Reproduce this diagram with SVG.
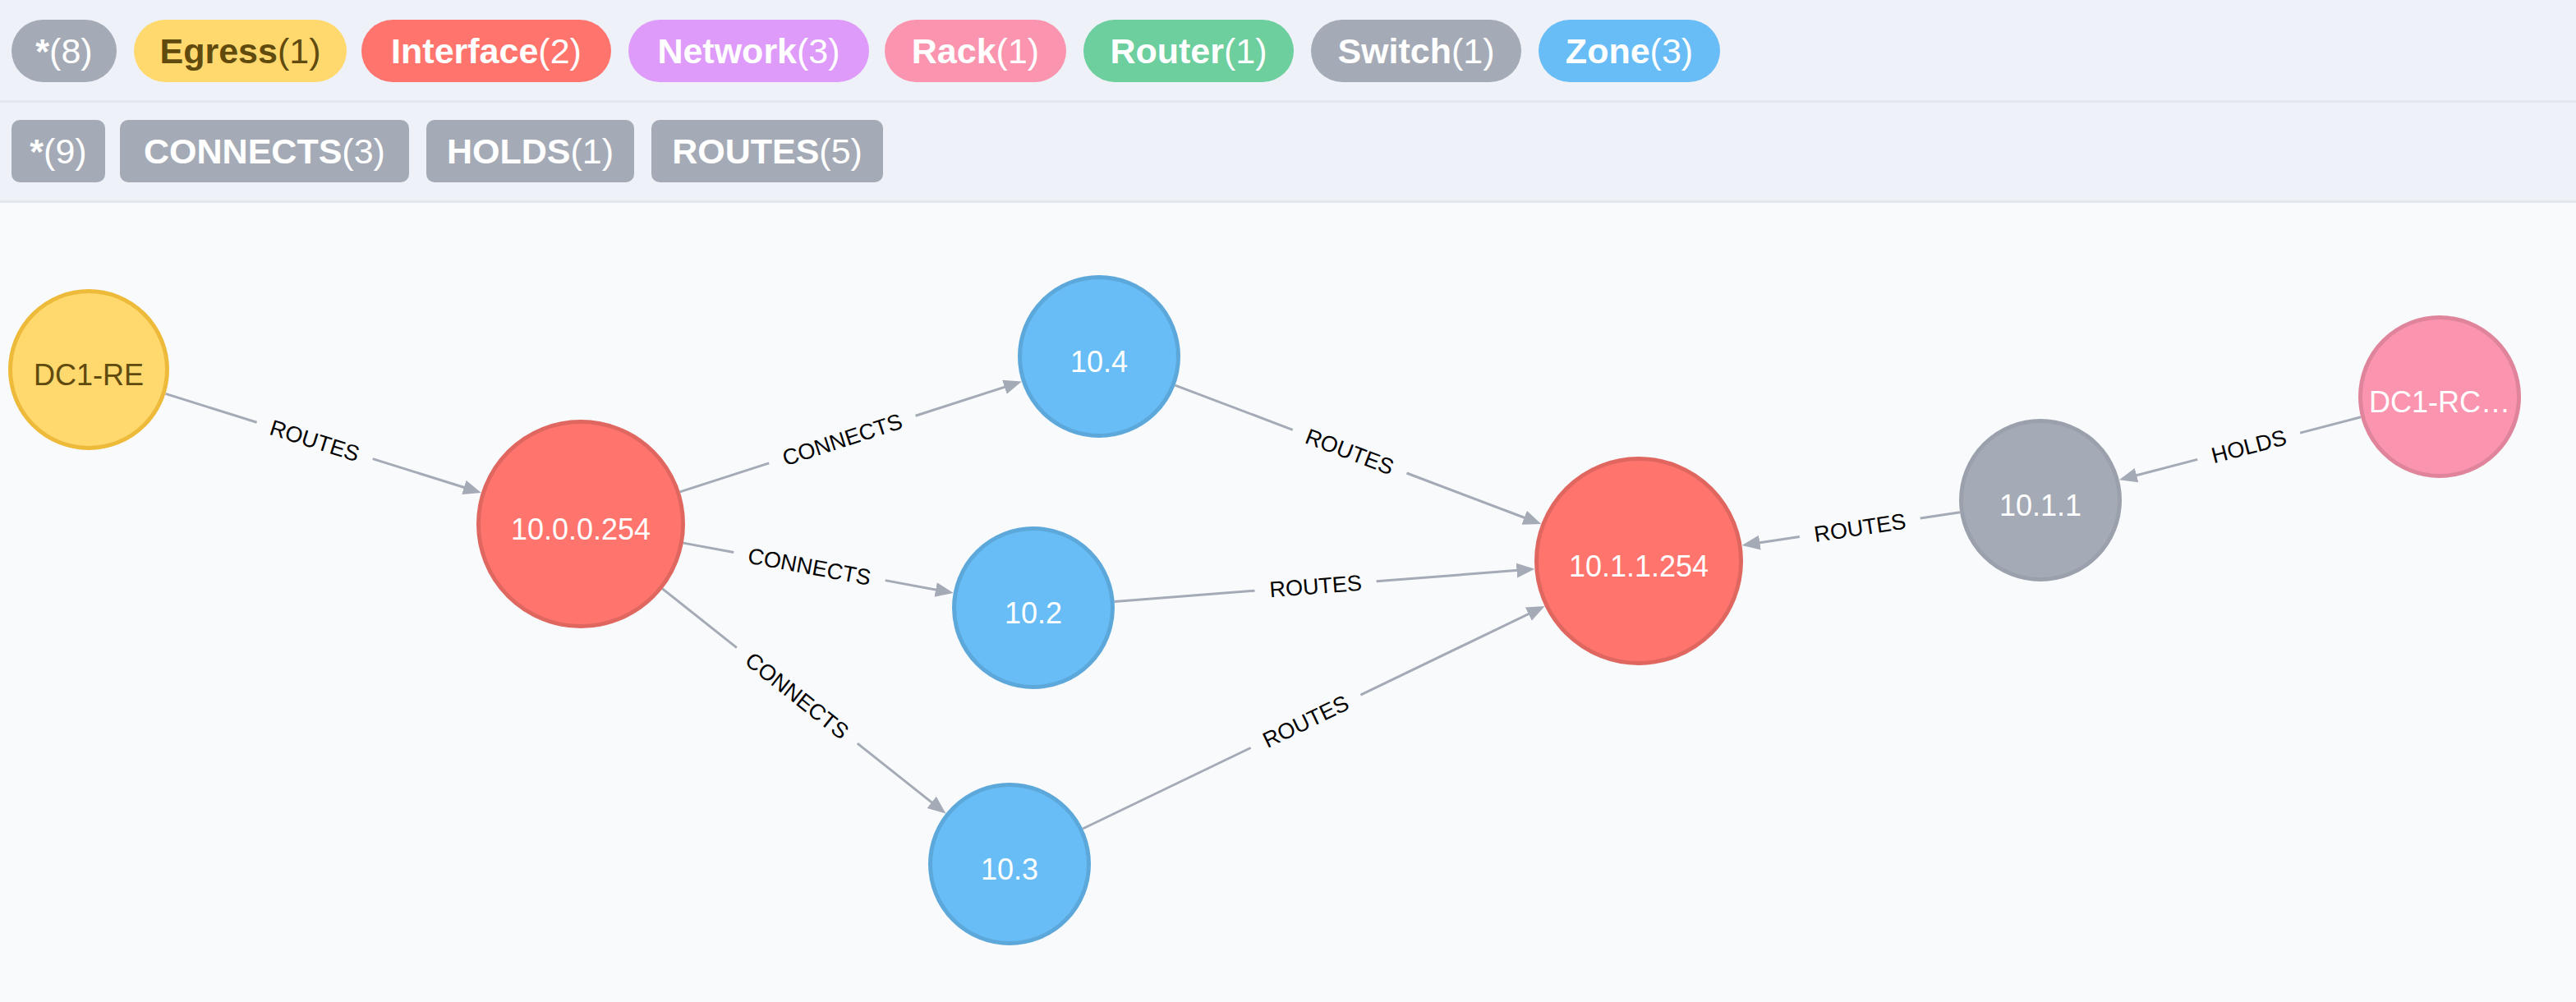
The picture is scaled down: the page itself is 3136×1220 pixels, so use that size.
<svg xmlns="http://www.w3.org/2000/svg" width="3136" height="1220" viewBox="0 0 3136 1220">
<defs>
<style>
.pill{font-family:"Liberation Sans",Arial,sans-serif;font-size:43px;fill:#fff;text-anchor:middle}
.pill .b{font-weight:bold}
.node text{font-family:"Liberation Sans",Arial,sans-serif;font-size:36px;fill:#fff;text-anchor:middle}
.edge line{stroke:#a5abb6;stroke-width:3}
.edge .arr{marker-end:url(#ah)}
.edge text{font-family:"Liberation Sans",Arial,sans-serif;font-size:27px;fill:#000;text-anchor:middle}
.n-egress{fill:#ffd86e;stroke:#edba39;stroke-width:5}
.n-iface{fill:#ff756e;stroke:#e06760;stroke-width:5}
.n-zone{fill:#68bdf6;stroke:#5ca8db;stroke-width:5}
.n-switch{fill:#a5abb6;stroke:#9aa1ac;stroke-width:5}
.n-rack{fill:#fb95af;stroke:#e0849b;stroke-width:5}
</style>
<marker id="ah" markerUnits="userSpaceOnUse" markerWidth="24" markerHeight="20" refX="12" refY="9" orient="auto" viewBox="0 0 24 20">
<path d="M0,0 L22,9 L0,18 Z" fill="#a5abb6"/>
</marker>
</defs>
<rect x="0" y="0" width="3136" height="1220" fill="#f9fafc"/>
<rect x="0" y="0" width="3136" height="245" fill="#eef1f8"/>
<rect x="0" y="122" width="3136" height="3" fill="#e3e7ee"/>
<rect x="0" y="244" width="3136" height="3" fill="#e3e7ee"/>

<g id="legend-labels">
<g id="pill-all"><rect x="14" y="24" width="128" height="76" rx="38" fill="#a5abb6"/><text class="pill" x="78" y="77"><tspan class="b">*</tspan>(8)</text></g>
<g id="pill-egress"><rect x="163" y="24" width="259" height="76" rx="38" fill="#ffd86e"/><text class="pill" x="292.5" y="77" fill="#604a0e" style="fill:#604a0e"><tspan class="b">Egress</tspan>(1)</text></g>
<g id="pill-interface"><rect x="440" y="24" width="304" height="76" rx="38" fill="#ff756e"/><text class="pill" x="592" y="77"><tspan class="b">Interface</tspan>(2)</text></g>
<g id="pill-network"><rect x="765" y="24" width="293" height="76" rx="38" fill="#de9bf9"/><text class="pill" x="911.5" y="77"><tspan class="b">Network</tspan>(3)</text></g>
<g id="pill-rack"><rect x="1077" y="24" width="221" height="76" rx="38" fill="#fb95af"/><text class="pill" x="1187.5" y="77"><tspan class="b">Rack</tspan>(1)</text></g>
<g id="pill-router"><rect x="1319" y="24" width="256" height="76" rx="38" fill="#6dce9e"/><text class="pill" x="1447" y="77"><tspan class="b">Router</tspan>(1)</text></g>
<g id="pill-switch"><rect x="1596" y="24" width="256" height="76" rx="38" fill="#a5abb6"/><text class="pill" x="1724" y="77"><tspan class="b">Switch</tspan>(1)</text></g>
<g id="pill-zone"><rect x="1873" y="24" width="221" height="76" rx="38" fill="#68bdf6"/><text class="pill" x="1983.5" y="77"><tspan class="b">Zone</tspan>(3)</text></g>
</g>

<g id="legend-types">
<g id="type-all"><rect x="14" y="146" width="114" height="76" rx="10" fill="#a5abb6"/><text class="pill" x="71" y="199"><tspan class="b">*</tspan>(9)</text></g>
<g id="type-connects"><rect x="146" y="146" width="352" height="76" rx="10" fill="#a5abb6"/><text class="pill" x="322" y="199"><tspan class="b">CONNECTS</tspan>(3)</text></g>
<g id="type-holds"><rect x="519" y="146" width="253" height="76" rx="10" fill="#a5abb6"/><text class="pill" x="645.5" y="199"><tspan class="b">HOLDS</tspan>(1)</text></g>
<g id="type-routes"><rect x="793" y="146" width="282" height="76" rx="10" fill="#a5abb6"/><text class="pill" x="934" y="199"><tspan class="b">ROUTES</tspan>(5)</text></g>
</g>

<g id="connectors" class="edge">
<g id="e1">
<line x1="201.5" y1="479.4" x2="312.6" y2="514.2"/>
<line class="arr" x1="453.8" y1="558.6" x2="576.3" y2="597.0"/>
<text transform="translate(383.2,536.4) rotate(17.43)" y="9.5">ROUTES</text>
</g>
<g id="e2">
<line x1="827.8" y1="598.9" x2="936.2" y2="563.9"/>
<line class="arr" x1="1114.6" y1="506.3" x2="1234.3" y2="467.6"/>
<text transform="translate(1025.4,535.1) rotate(-17.92)" y="9.5">CONNECTS</text>
</g>
<g id="e3">
<line x1="831.9" y1="661.1" x2="893.3" y2="672.5"/>
<line class="arr" x1="1077.7" y1="706.6" x2="1150.9" y2="720.2"/>
<text transform="translate(985.5,689.6) rotate(10.49)" y="9.5">CONNECTS</text>
</g>
<g id="e4">
<line x1="806.5" y1="716.9" x2="896.9" y2="788.6"/>
<line class="arr" x1="1043.8" y1="905.1" x2="1143.6" y2="984.3"/>
<text transform="translate(970.4,846.9) rotate(38.42)" y="9.5">CONNECTS</text>
</g>
<g id="e5">
<line x1="1430.6" y1="469.1" x2="1573.7" y2="523.3"/>
<line class="arr" x1="1712.5" y1="576.0" x2="1866.9" y2="634.5"/>
<text transform="translate(1643.1,549.7) rotate(20.76)" y="9.5">ROUTES</text>
</g>
<g id="e6">
<line x1="1356.7" y1="732.4" x2="1527.5" y2="719.2"/>
<line class="arr" x1="1675.6" y1="707.7" x2="1858.4" y2="693.6"/>
<text transform="translate(1601.6,713.5) rotate(-4.42)" y="9.5">ROUTES</text>
</g>
<g id="e7">
<line x1="1318.2" y1="1009.0" x2="1522.6" y2="910.5"/>
<line class="arr" x1="1656.4" y1="846.1" x2="1871.6" y2="742.4"/>
<text transform="translate(1589.5,878.3) rotate(-25.72)" y="9.5">ROUTES</text>
</g>
<g id="e8">
<line x1="2386.1" y1="623.8" x2="2337.7" y2="631.1"/>
<line class="arr" x1="2190.8" y1="653.4" x2="2130.5" y2="662.5"/>
<text transform="translate(2264.3,642.3) rotate(-8.6)" y="9.5">ROUTES</text>
</g>
<g id="e9">
<line x1="2874.2" y1="507.8" x2="2800.1" y2="527.1"/>
<line class="arr" x1="2675.2" y1="559.4" x2="2589.5" y2="581.7"/>
<text transform="translate(2737.7,543.3) rotate(-14.5)" y="9.5">HOLDS</text>
</g>
</g>

<g id="node-dc1-re" class="node"><circle class="n-egress" cx="108" cy="450" r="95.5"/><text x="108" y="469" style="fill:#604a0e">DC1-RE</text></g>
<g id="node-10-0-0-254" class="node"><circle class="n-iface" cx="707" cy="638" r="124.5"/><text x="707" y="657">10.0.0.254</text></g>
<g id="node-10-4" class="node"><circle class="n-zone" cx="1338" cy="434" r="96.5"/><text x="1338" y="453">10.4</text></g>
<g id="node-10-2" class="node"><circle class="n-zone" cx="1258" cy="740" r="96.5"/><text x="1258" y="759">10.2</text></g>
<g id="node-10-3" class="node"><circle class="n-zone" cx="1229" cy="1052" r="96.5"/><text x="1229" y="1071">10.3</text></g>
<g id="node-10-1-1-254" class="node"><circle class="n-iface" cx="1995" cy="683" r="124.5"/><text x="1995" y="702">10.1.1.254</text></g>
<g id="node-10-1-1" class="node"><circle class="n-switch" cx="2484" cy="609" r="96.5"/><text x="2484" y="628">10.1.1</text></g>
<g id="node-dc1-rc" class="node"><circle class="n-rack" cx="2970" cy="483" r="96.5"/><text x="2970" y="502">DC1-RC…</text></g>
</svg>
